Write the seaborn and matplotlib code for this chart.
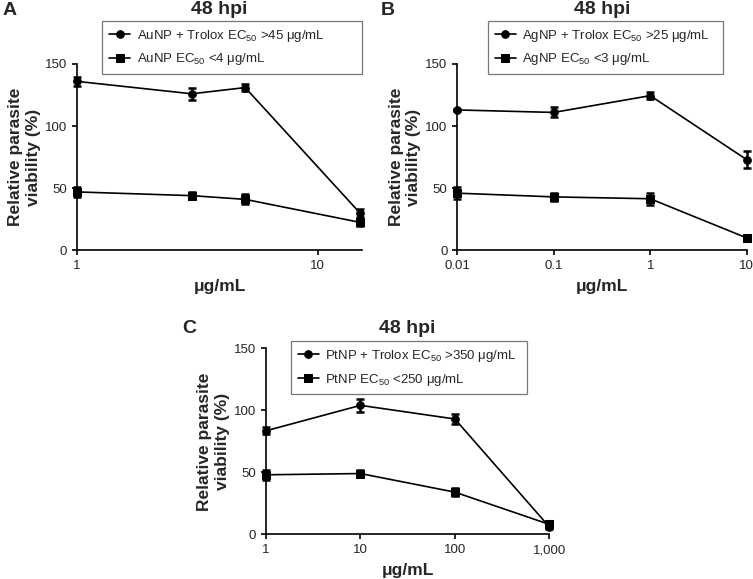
import pandas as pd
import seaborn as sns
import matplotlib.pyplot as plt
from matplotlib.ticker import FixedLocator, NullLocator

sns.set_style('ticks')
plt.rcParams['font.family'] = ['Liberation Sans', 'DejaVu Sans']
plt.rcParams['mathtext.default'] = 'regular'

# A: AuNP
au_conc = [1, 3, 5, 15]
au_trolox = [136, 126, 131, 30]
au_trolox_err = [3.5, 5, 3, 3]
au_only = [47, 44, 41, 22.5]
au_only_err = [4, 3, 4, 3]

# B: AgNP
ag_conc = [0.01, 0.1, 1, 10]
ag_trolox = [113, 111, 124.5, 73]
ag_trolox_err = [1, 4, 3, 7]
ag_only = [46, 43, 41.5, 10]
ag_only_err = [5, 3, 5, 1]

# C: PtNP
pt_conc = [1, 10, 100, 1000]
pt_trolox = [83.5, 104, 93, 6]
pt_trolox_err = [3, 5, 4, 2]
pt_only = [48, 49, 34, 8]
pt_only_err = [4, 3, 3, 2]

panels = [
    dict(conc=au_conc, trolox=au_trolox, trolox_err=au_trolox_err,
         only=au_only, only_err=au_only_err,
         lab_trolox='AuNP + Trolox EC$_{50}$ >45 μg/mL', lab_only='AuNP EC$_{50}$ <4 μg/mL',
         ticks=[1, 10], ticklabels=['1', '10'], xlim=(1, 15.3),
         rect=[0.1023, 0.5677, 0.3785, 0.3218], leg=(0.089, 1.231, 0.912, 0), title_y=1.29),
    dict(conc=ag_conc, trolox=ag_trolox, trolox_err=ag_trolox_err,
         only=ag_only, only_err=ag_only_err,
         lab_trolox='AgNP + Trolox EC$_{50}$ >25 μg/mL', lab_only='AgNP EC$_{50}$ <3 μg/mL',
         ticks=[0.01, 0.1, 1, 10], ticklabels=['0.01', '0.1', '1', '10'], xlim=(0.01, 10),
         rect=[0.6073, 0.5677, 0.3843, 0.3218], leg=(0.106, 1.231, 0.811, 0), title_y=1.29),
    dict(conc=pt_conc, trolox=pt_trolox, trolox_err=pt_trolox_err,
         only=pt_only, only_err=pt_only_err,
         lab_trolox='PtNP + Trolox EC$_{50}$ >350 μg/mL', lab_only='PtNP EC$_{50}$ <250 μg/mL',
         ticks=[1, 10, 100, 1000], ticklabels=['1', '10', '100', '1,000'], xlim=(1, 1000),
         rect=[0.3533, 0.0772, 0.3762, 0.3212], leg=(0.088, 1.039, 0.832, 0), title_y=1.109),
]

fig = plt.figure(figsize=(7.53, 5.79), dpi=100)

for p in panels:
    ax = fig.add_axes(p['rect'])
    sns.lineplot(x=p['conc'], y=p['trolox'], ax=ax, color='black', marker='o', markersize=5.5,
                 markeredgecolor='black', linewidth=1.2, label=p['lab_trolox'], clip_on=False, zorder=3)
    sns.lineplot(x=p['conc'], y=p['only'], ax=ax, color='black', marker='s', markersize=5.5,
                 markeredgecolor='black', linewidth=1.2, label=p['lab_only'], clip_on=False, zorder=3)
    ax.errorbar(p['conc'], p['trolox'], yerr=p['trolox_err'], fmt='none', ecolor='black',
                elinewidth=1.8, capsize=3, capthick=1.8, clip_on=False, zorder=4)
    ax.errorbar(p['conc'], p['only'], yerr=p['only_err'], fmt='none', ecolor='black',
                elinewidth=1.8, capsize=3, capthick=1.8, clip_on=False, zorder=4)

    ax.set_xscale('log')
    ax.xaxis.set_major_locator(FixedLocator(p['ticks']))
    ax.xaxis.set_minor_locator(NullLocator())
    ax.set_xticklabels(p['ticklabels'])
    ax.set_xlim(*p['xlim'])
    ax.set_ylim(0, 150)
    ax.set_yticks([0, 50, 100, 150])
    sns.despine(ax=ax)
    for s in ['left', 'bottom']:
        ax.spines[s].set_linewidth(1.2)
        ax.spines[s].set_color('black')
    ax.tick_params(axis='both', length=3.5, width=1.2, color='black', labelsize=9.5, pad=3.5)

    ax.set_xlabel('μg/mL', fontsize=12.5, fontweight='bold', labelpad=5)
    ax.set_ylabel('Relative parasite\nviability (%)', fontsize=12.5, fontweight='bold', labelpad=3)
    ax.text(0.5, p['title_y'], '48 hpi', transform=ax.transAxes, ha='center', va='center',
            fontsize=14, fontweight='bold')

    leg = ax.legend(loc='upper left', bbox_to_anchor=p['leg'], mode='expand', borderaxespad=0,
                    fontsize=9.5, frameon=True, fancybox=False, handlelength=1.6,
                    handletextpad=0.5, labelspacing=0.6, borderpad=0.5, edgecolor='#555555')
    leg.get_frame().set_linewidth(0.9)

fig.text(0.003, 0.997, 'A', fontsize=14, fontweight='bold', ha='left', va='top')
fig.text(0.505, 0.997, 'B', fontsize=14, fontweight='bold', ha='left', va='top')
fig.text(0.242, 0.447, 'C', fontsize=14, fontweight='bold', ha='left', va='top')

fig.savefig('out.png', dpi=100)
